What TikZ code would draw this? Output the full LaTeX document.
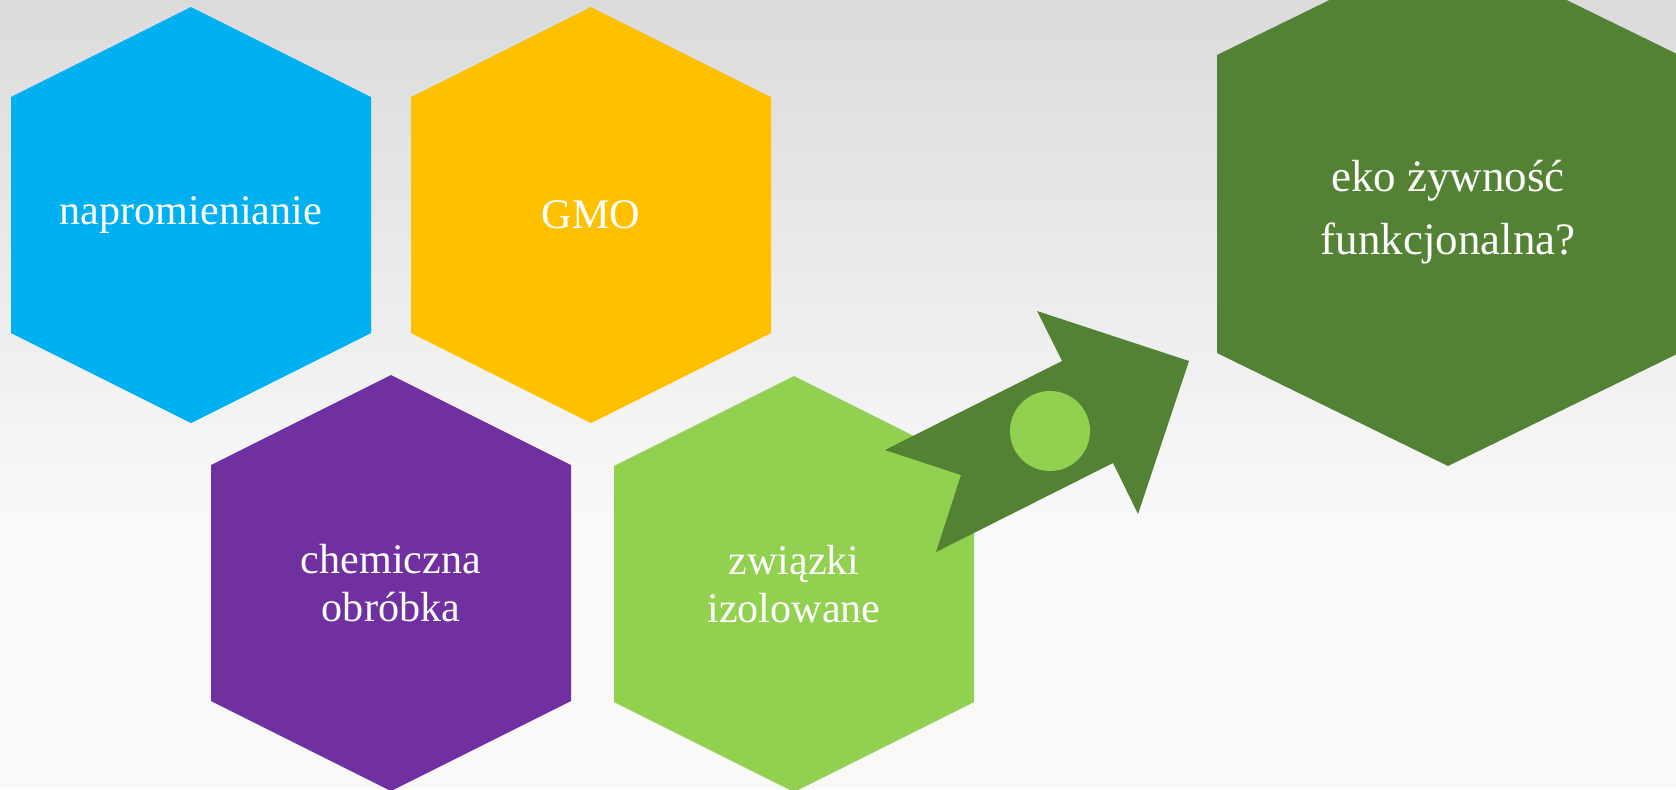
\documentclass[tikz,border=0pt]{standalone}
\usepackage{fontspec}
\setmainfont{Liberation Serif}
\definecolor{hexblue}{RGB}{0,176,240}
\definecolor{hexyellow}{RGB}{255,192,0}
\definecolor{hexpurple}{RGB}{112,48,160}
\definecolor{hexlime}{RGB}{146,208,80}
\definecolor{hexgreen}{RGB}{84,130,53}
\definecolor{bgtop}{RGB}{219,219,219}
\definecolor{bgbot}{RGB}{249,249,249}
\tikzset{
    pics/honeycomb/.style={
        code={
            \fill[#1] (0,-208) -- (180,-118) -- (180,118) -- (0,208)
                -- (-180,118) -- (-180,-118) -- cycle;
        }
    },
    hextext/.style={
        text=white,
        align=center,
        font=\fontsize{12}{13.7}\selectfont
    }
}

\begin{document}
\begin{tikzpicture}[x=0.1mm,y=-0.1mm]
            \useasboundingbox (0,0) rectangle (1676,789);
            \clip (0,0) rectangle (1676,789);
            \fill[bgbot] (0,0) rectangle (1676,789);
            \shade[top color=bgtop,bottom color=bgbot] (0,0) rectangle (1676,520);
            \begin{scope}[
                shift={(191,215)}
            ]
                \pic{honeycomb=hexblue};
                \node[hextext] (napro) {napromienianie};
            \end{scope}
            \begin{scope}[
                shift={(591,215)}
            ]
                \pic{honeycomb=hexyellow};
                \node[hextext] (gmo) {GMO};
            \end{scope}
            \begin{scope}[
                shift={(391,583)}
            ]
                \pic{honeycomb=hexpurple};
                \node[hextext] (chem) {chemiczna\\obróbka};
            \end{scope}
            \begin{scope}[
                shift={(794,584)}
            ]
                \pic{honeycomb=hexlime};
                \node[hextext] (zwiazki) {związki\\izolowane};
            \end{scope}
            \begin{scope}[
                shift={(1448,204)}
            ]
                \fill[hexgreen] (0,-262) -- (231,-149) -- (231,149) -- (0,262)
                    -- (-231,149) -- (-231,-149) -- cycle;
                \node[hextext,font=\fontsize{12.8}{17.9}\selectfont] (eko) at (0,8) {eko żywność\\funkcjonalna?};
            \end{scope}
            \fill[hexgreen] (885,450) -- (961,475) -- (936,552) -- (1113,463)
                -- (1138,514) -- (1189,361) -- (1037,311) -- (1062,361) -- cycle;
            \fill[hexlime] (1050,431) circle[radius=4mm];
        \end{tikzpicture}
\end{document}
